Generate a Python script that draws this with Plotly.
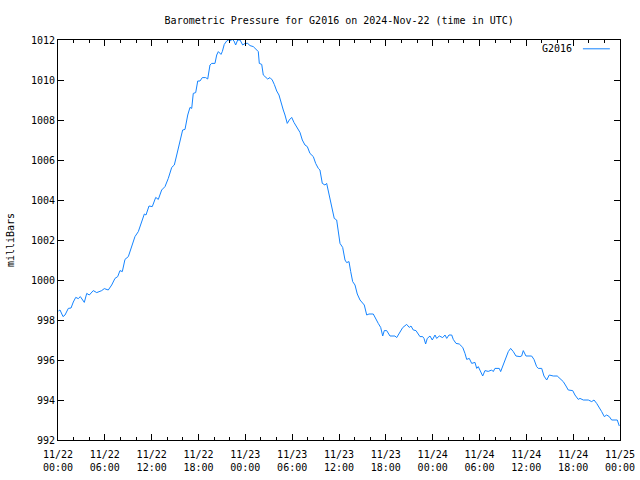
import plotly.graph_objects as go
import pandas as pd

# hours since 2024-11-22 00:00 UTC
hours = [0.05, 0.26, 0.64, 0.9, 1.32, 1.67, 1.96, 2.27, 2.6, 2.86, 3.37, 3.68, 4.01, 4.52, 4.96, 5.6, 5.93,
         6.44, 6.88, 7.3, 7.65, 7.94, 8.24, 8.58, 9.01, 9.44, 9.86, 10.29, 10.63, 11.06, 11.27, 11.66,
         12.08, 12.52, 12.85, 13.28, 13.71, 14.13, 14.57, 14.9, 15.21, 15.63, 15.97, 16.27, 16.62, 16.91,
         17.13, 17.33, 17.64, 17.9, 18.19, 18.49, 18.92, 19.18, 19.47, 19.69, 20.11, 20.33, 20.54, 20.88,
         21.05, 21.3, 21.61, 21.82, 22.03, 22.33, 22.55, 22.76, 23.02, 23.32, 23.66, 23.96, 24.3, 24.6,
         25.02, 25.33, 25.66, 25.79, 26.1, 26.3, 26.61, 26.86, 27.16, 27.45, 27.71, 28.02, 28.31, 28.57,
         28.86, 29.08, 29.37, 29.63, 29.94, 30.23, 30.58, 31.0, 31.3, 31.64, 31.94, 32.28, 32.71, 33.01,
         33.35, 33.56, 33.86, 34.2, 34.42, 34.72, 35.06, 35.39, 35.7, 35.91, 36.13, 36.47, 36.77, 36.98,
         37.28, 37.5, 37.75, 38.05, 38.34, 38.69, 38.98, 39.24, 39.55, 39.84, 40.39, 40.74, 41.03, 41.34,
         41.6, 41.8, 42.11, 42.53, 43.17, 43.39, 43.81, 44.16, 44.67, 45.0, 45.22, 45.52, 45.86, 46.16,
         46.37, 46.72, 46.89, 47.1, 47.31, 47.66, 47.95, 48.3, 48.51, 48.85, 49.28, 49.58, 49.8, 50.09,
         50.44, 50.64, 50.99, 51.41, 51.85, 52.14, 52.36, 52.69, 53.0, 53.42, 53.64, 53.84, 54.41, 54.7,
         55.12, 55.56, 55.76, 55.98, 56.53, 56.71, 57.05, 57.39, 57.69, 57.99, 58.33, 58.67, 59.18, 59.4,
         59.61, 59.95, 60.68, 60.98, 61.32, 61.53, 61.97, 62.26, 62.61, 62.94, 63.45, 63.96, 64.31, 64.73,
         65.08, 65.37, 65.94, 66.23, 66.65, 66.87, 67.3, 67.94, 68.37, 68.67, 69.01, 69.43, 69.65, 69.99,
         70.29, 70.63, 70.93, 71.65, 71.91]

pressure = [998.45, 998.5, 998.17, 998.25, 998.58, 998.6, 998.9, 999.13, 999.07, 999.17, 998.88, 999.33, 999.25,
            999.47, 999.37, 999.47, 999.57, 999.5, 999.75, 1000.08, 1000.17, 1000.47, 1000.42, 1001.03,
            1001.17, 1001.67, 1002.17, 1002.42, 1002.83, 1003.3, 1003.25, 1003.7, 1003.67, 1004.13, 1004.03,
            1004.5, 1004.67, 1005.08, 1005.63, 1005.75, 1006.25, 1007.0, 1007.5, 1007.53, 1008.25, 1008.63,
            1008.58, 1009.33, 1009.37, 1009.95, 1009.95, 1010.12, 1010.12, 1010.05, 1010.75, 1010.83,
            1010.83, 1011.25, 1011.42, 1011.28, 1011.42, 1011.78, 1011.95, 1012.0, 1011.95, 1012.03,
            1011.95, 1011.75, 1012.0, 1012.0, 1011.75, 1011.83, 1011.83, 1011.72, 1011.67, 1011.55,
            1011.42, 1010.83, 1010.78, 1010.25, 1010.12, 1010.05, 1010.12, 1010.0, 1009.78, 1009.45,
            1009.25, 1008.83, 1008.5, 1008.25, 1007.83, 1008.0, 1008.13, 1007.88, 1007.62, 1007.38, 1007.0,
            1006.75, 1006.67, 1006.33, 1006.17, 1005.83, 1005.58, 1005.5, 1004.83, 1004.75, 1004.83,
            1004.25, 1003.6, 1003.08, 1003.0, 1002.42, 1001.83, 1001.63, 1001.0, 1000.87, 1000.92, 1000.42,
            999.92, 999.75, 999.3, 999.0, 998.87, 998.75, 998.25, 998.3, 998.3, 998.08, 997.83, 997.63,
            997.2, 997.47, 997.47, 997.2, 997.2, 997.12, 997.37, 997.62, 997.78, 997.63, 997.7, 997.5,
            997.47, 997.3, 997.17, 997.17, 997.08, 996.8, 997.08, 997.2, 997.0, 997.25, 997.08, 997.2,
            997.12, 997.25, 997.08, 997.25, 997.25, 997.03, 996.83, 996.8, 996.63, 996.33, 996.03, 996.08,
            995.83, 995.88, 995.58, 995.67, 995.2, 995.47, 995.43, 995.5, 995.42, 995.58, 995.58, 995.42,
            995.75, 996.17, 996.42, 996.58, 996.42, 996.2, 996.17, 996.2, 996.47, 996.2, 996.2, 996.03,
            995.67, 995.58, 995.58, 995.2, 995.0, 995.25, 995.2, 995.2, 995.05, 994.92, 994.7, 994.5,
            994.47, 994.25, 994.03, 994.08, 994.0, 994.0, 993.92, 994.0, 993.83, 993.58, 993.42, 993.17,
            993.25, 993.17, 993.0, 993.0, 992.7]

tick_times = ["2024-11-22 00:00", "2024-11-22 06:00", "2024-11-22 12:00", "2024-11-22 18:00",
              "2024-11-23 00:00", "2024-11-23 06:00", "2024-11-23 12:00", "2024-11-23 18:00",
              "2024-11-24 00:00", "2024-11-24 06:00", "2024-11-24 12:00", "2024-11-24 18:00",
              "2024-11-25 00:00"]
tick_labels = ["11/22<br>00:00", "11/22<br>06:00", "11/22<br>12:00", "11/22<br>18:00",
               "11/23<br>00:00", "11/23<br>06:00", "11/23<br>12:00", "11/23<br>18:00",
               "11/24<br>00:00", "11/24<br>06:00", "11/24<br>12:00", "11/24<br>18:00",
               "11/25<br>00:00"]
y_ticks = [992, 994, 996, 998, 1000, 1002, 1004, 1006, 1008, 1010, 1012]

start = pd.Timestamp("2024-11-22 00:00")
times = [start + pd.Timedelta(hours=h) for h in hours]

FONT = "DejaVu Sans Mono"
COLOR = "#1484ff"

fig = go.Figure()
fig.add_trace(go.Scatter(x=times, y=pressure, mode="lines", name="G2016",
                         line=dict(color=COLOR, width=1), showlegend=False))

fig.update_layout(
    width=640, height=480,
    margin=dict(l=58, r=20, t=40, b=40, autoexpand=False),
    paper_bgcolor="white", plot_bgcolor="white",
    font=dict(family=FONT, size=10, color="black"),
    title=dict(text="Barometric Pressure for G2016 on 2024-Nov-22 (time in UTC)",
               x=0.53, xanchor="center", y=0.958, yanchor="middle",
               font=dict(family=FONT, size=10, color="black")),
    xaxis=dict(type="date", range=[tick_times[0], tick_times[-1]],
               tickvals=tick_times, ticktext=tick_labels, automargin=False,
               showgrid=False, zeroline=False,
               showline=True, linecolor="black", linewidth=1, mirror="allticks",
               ticks="inside", ticklen=6, tickcolor="black", ticklabelstandoff=5,
               minor=dict(dtick=2 * 3600 * 1000, ticks="inside", ticklen=3, tickcolor="black", showgrid=False),
               tickfont=dict(family=FONT, size=10)),
    yaxis=dict(range=[992, 1012], tickvals=y_ticks, automargin=False,
               showgrid=False, zeroline=False,
               showline=True, linecolor="black", linewidth=1, mirror="allticks",
               ticks="inside", ticklen=6, tickcolor="black",
               tickfont=dict(family=FONT, size=10),
               title=dict(text="milliBars", standoff=14, font=dict(family=FONT, size=10))),
)

# gnuplot-style key: label then line sample, top right
fig.add_annotation(text="G2016", xref="paper", yref="paper", x=0.919, y=0.978,
                   xanchor="right", yanchor="middle", showarrow=False,
                   font=dict(family=FONT, size=10, color="black"))
fig.add_shape(type="line", xref="paper", yref="paper", x0=0.934, x1=0.982, y0=0.978, y1=0.978,
              line=dict(color=COLOR, width=1))

fig.write_html("out.html")
